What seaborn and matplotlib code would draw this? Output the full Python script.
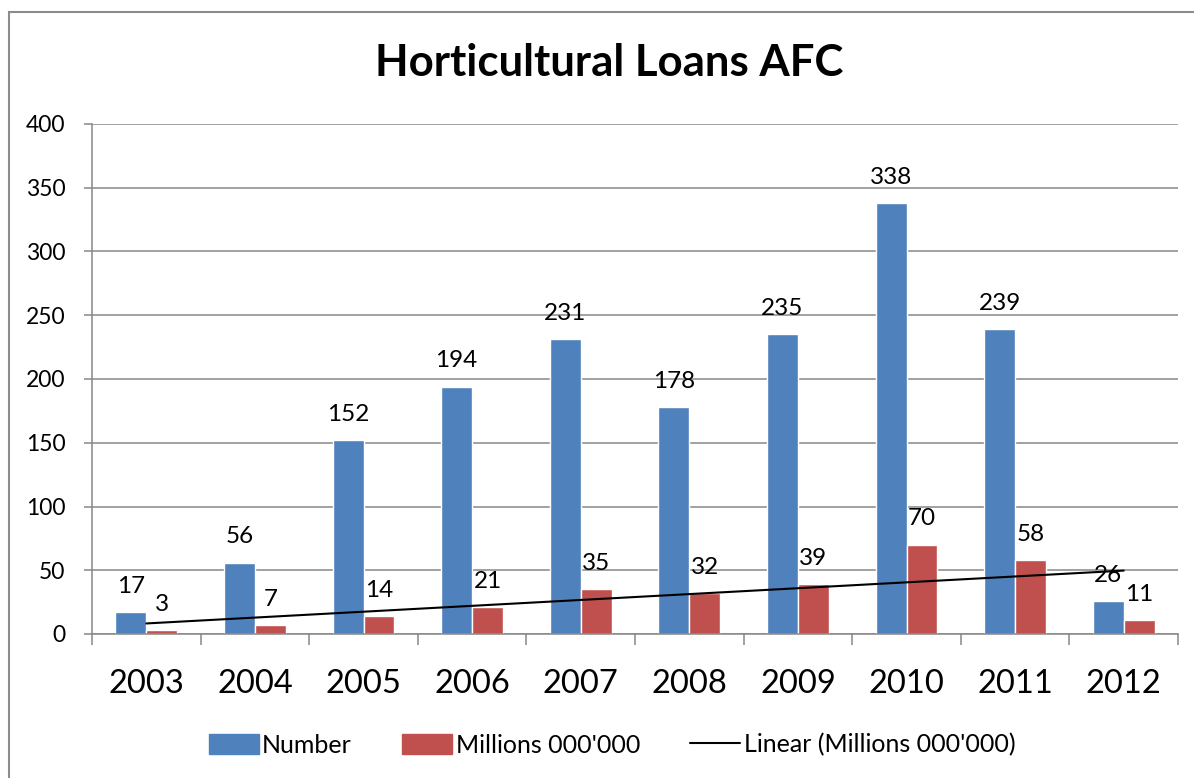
import numpy as np
import pandas as pd
import seaborn as sns
import matplotlib.pyplot as plt
from matplotlib.patches import Rectangle
from matplotlib.ticker import FixedLocator, NullFormatter

years = ["2003", "2004", "2005", "2006", "2007", "2008", "2009", "2010", "2011", "2012"]
number = [17, 56, 152, 194, 231, 178, 235, 338, 239, 26]
millions = [3, 7, 14, 21, 35, 32, 39, 70, 58, 11]
y_ticks = [0, 50, 100, 150, 200, 250, 300, 350, 400]

blue = "#4F81BD"
red = "#C0504D"
grey = "#878787"

sns.set_style("white")
plt.rcParams['font.family'] = ['Lato', 'DejaVu Sans']
plt.rcParams['text.color'] = 'black'
plt.rcParams['xtick.color'] = 'black'
plt.rcParams['ytick.color'] = 'black'

df = pd.DataFrame({
    "Year": years * 2,
    "value": number + millions,
    "series": ["Number"] * len(years) + ["Millions 000'000"] * len(years),
})

fig = plt.figure(figsize=(11.94, 7.78), dpi=100)
ax = fig.add_axes([92 / 1194, 1 - 634 / 778, (1178 - 92) / 1194, (634 - 124) / 778])

sns.barplot(data=df, x="Year", y="value", hue="series", palette=[blue, red],
            width=0.57, saturation=1, ax=ax, legend=False, zorder=2)

for cont in ax.containers:
    ax.bar_label(cont, fontsize=17.5, padding=11, color="black")

# linear trendline on millions (Excel style, x = 1..n)
xs = np.arange(len(years))
slope, icpt = np.polyfit(xs, millions, 1)
ax.plot(xs, slope * xs + icpt, color="black", lw=1.5, zorder=4,
        label="Linear (Millions 000'000)")

ax.set_xlim(-0.5, len(years) - 0.5)
ax.set_ylim(0, 400)
ax.set_yticks(y_ticks)
ax.yaxis.grid(True, color=grey, lw=1.1)
ax.set_axisbelow(True)
ax.set_xlabel("")
ax.set_ylabel("")

ax.xaxis.set_major_locator(FixedLocator(np.arange(-0.5, len(years), 1.0)))
ax.xaxis.set_major_formatter(NullFormatter())
ax.xaxis.set_minor_locator(FixedLocator(xs))
ax.set_xticklabels(years, minor=True)
ax.tick_params(axis="x", which="major", direction="out", length=8, width=1.1, color=grey, bottom=True)
ax.tick_params(axis="x", which="minor", length=0, pad=25, labelsize=23.5, labelcolor="black")
ax.tick_params(axis="y", direction="out", length=6, width=1.1, color=grey, left=True,
               labelsize=16.5, pad=13, labelcolor="black")

for s in ["top", "right"]:
    ax.spines[s].set_visible(False)
for s in ["left", "bottom"]:
    ax.spines[s].set_color(grey)
    ax.spines[s].set_linewidth(1.1)

fig.text(609 / 1194, 1 - 63 / 778, "Horticultural Loans AFC", ha="center", va="center",
         fontsize=31.5, fontweight="bold", color="black")

# chart area border
fig.patches.append(Rectangle((9 / 1194, -0.05), 1.2, 1.05 - 12 / 778, transform=fig.transFigure,
                             fill=False, edgecolor="#8c8c8c", lw=1.5))

handles = [Rectangle((0, 0), 1, 1, color=blue), Rectangle((0, 0), 1, 1, color=red),
           plt.Line2D([0], [0], color="black", lw=1.5)]
labels = ["Number", "Millions 000'000", "Linear (Millions 000'000)"]
fig.legend(handles, labels, loc="center", bbox_to_anchor=(612 / 1194, 1 - 745 / 778),
           ncol=3, frameon=False, fontsize=18, handlelength=2.0, handleheight=0.9,
           handletextpad=0.15, columnspacing=2.0)

plt.savefig("out.png", dpi=100)
plt.close(fig)
